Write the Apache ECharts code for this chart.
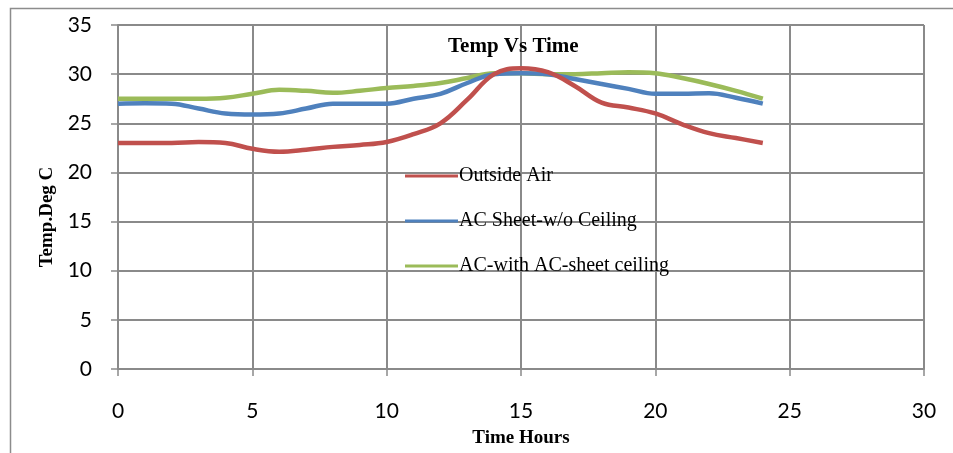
<!DOCTYPE html>
<html>
<head>
<meta charset="utf-8">
<script src="https://cdn.jsdelivr.net/npm/echarts@6/dist/echarts.min.js"></script>
<style>
html,body{margin:0;padding:0;background:#fff;}
#chart{width:953px;height:453px;}
</style>
</head>
<body>
<div id="chart"></div>
<script>
var hours = [0, 1, 2, 3, 4, 5, 6, 7, 8, 9, 10, 11, 12, 13, 14, 15, 16, 17, 18, 19, 20, 21, 22, 23, 24];
var outsideAir = [23, 23, 23, 23.1, 23, 22.4, 22.1, 22.3, 22.6, 22.8, 23.1, 23.9, 25, 27.4, 30, 30.6, 30.2, 28.8, 27.1, 26.6, 26, 24.9, 24, 23.5, 23];
var acSheetNoCeiling = [27, 27.05, 27, 26.5, 26, 25.9, 26, 26.5, 27, 27, 27, 27.5, 28, 29.1, 30, 30.1, 30, 29.5, 29, 28.5, 28, 28, 28.05, 27.6, 27];
var acWithCeiling = [27.5, 27.5, 27.5, 27.5, 27.6, 28, 28.4, 28.3, 28.1, 28.3, 28.6, 28.8, 29.1, 29.6, 30.1, 30.1, 30, 30, 30.1, 30.2, 30.1, 29.6, 29, 28.3, 27.5];
var seriesNames = ['Outside Air', 'AC Sheet-w/o Ceiling', 'AC-with AC-sheet ceiling'];
var seriesColors = ['#C0504D', '#4F81BD', '#9BBB59'];
var seriesValues = [outsideAir, acSheetNoCeiling, acWithCeiling];

function pairs(vals) {
  return hours.map(function (h, i) { return [h, vals[i]]; });
}

var chart = echarts.init(document.getElementById('chart'), null, {renderer: 'canvas'});
var gridColor = '#8A8A8A';
var option = {
  animation: false,
  backgroundColor: '#ffffff',
  title: {
    text: 'Temp Vs Time',
    left: 443,
    top: 31,
    textStyle: {fontFamily: 'Liberation Serif', fontWeight: 'bold', fontSize: 21, color: '#000'}
  },
  legend: {
    orient: 'vertical',
    left: 400,
    top: 161,
    itemWidth: 53,
    itemHeight: 3,
    itemGap: 25,
    icon: 'rect',
    textStyle: {fontFamily: 'Liberation Serif', fontSize: 20, color: '#000', padding: [0, 0, 0, -4]},
    data: seriesNames
  },
  grid: {left: 118, right: 29, top: 25, bottom: 84, containLabel: false},
  xAxis: {
    type: 'value', min: 0, max: 30, interval: 5,
    name: 'Time Hours', nameLocation: 'middle', nameGap: 60,
    nameTextStyle: {fontFamily: 'Liberation Serif', fontWeight: 'bold', fontSize: 19, color: '#000'},
    axisLine: {show: true, lineStyle: {color: gridColor, width: 2}},
    axisTick: {show: true, length: 7, lineStyle: {color: gridColor, width: 1.5}},
    axisLabel: {fontFamily: 'Lato', fontSize: 21, color: '#000', margin: 32},
    splitLine: {show: true, lineStyle: {color: gridColor, width: 2}}
  },
  yAxis: {
    type: 'value', min: 0, max: 35, interval: 5,
    name: 'Temp.Deg C', nameLocation: 'middle', nameGap: 58, nameRotate: 90,
    nameTextStyle: {fontFamily: 'Liberation Serif', fontWeight: 'bold', fontSize: 19, color: '#000', padding: [0, 0, 0, -40]},
    axisLine: {show: true, lineStyle: {color: gridColor, width: 2}},
    axisTick: {show: true, length: 7, lineStyle: {color: gridColor, width: 1.5}},
    axisLabel: {fontFamily: 'Lato', fontSize: 21, color: '#000', margin: 26},
    splitLine: {show: true, lineStyle: {color: gridColor, width: 2}}
  },
  graphic: [{
    type: 'rect',
    shape: {x: 10.5, y: 8.5, width: 960, height: 470},
    style: {fill: 'none', stroke: '#8C8C8C', lineWidth: 1.5},
    silent: true, z: -1
  }],
  series: seriesNames.map(function (n, i) {
    return {
      name: n, type: 'line', smooth: 0.4, showSymbol: false, symbol: 'none',
      data: pairs(seriesValues[i]),
      lineStyle: {color: seriesColors[i], width: 4.5},
      itemStyle: {color: seriesColors[i]},
      z: 3 - i
    };
  })
};
chart.setOption(option);
</script>
</body>
</html>
